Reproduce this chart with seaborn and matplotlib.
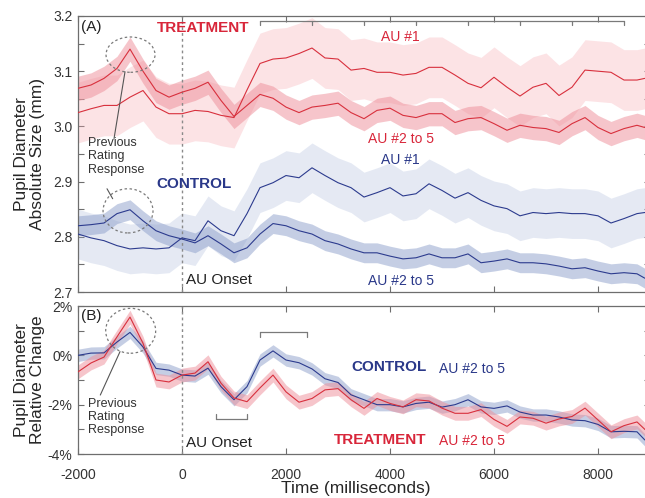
import matplotlib
matplotlib.use("Agg")
import matplotlib.pyplot as plt
import numpy as np
import pandas as pd
import seaborn as sns
from matplotlib.patches import Ellipse
from matplotlib.ticker import MultipleLocator, FuncFormatter

# ---------------- data ----------------
time_ms = list(range(-2000, 8751, 250)) + [8900]

# Panel A: absolute pupil size (mm)
treat_au1 = [3.025, 3.032, 3.038, 3.038, 3.053, 3.065, 3.035, 3.023, 3.023, 3.029,
             3.027, 3.020, 3.016, 3.066, 3.114, 3.122, 3.124, 3.132, 3.142, 3.124,
             3.122, 3.102, 3.105, 3.098, 3.098, 3.093, 3.096, 3.107, 3.107, 3.093,
             3.078, 3.070, 3.089, 3.071, 3.055, 3.071, 3.078, 3.056, 3.071, 3.102,
             3.100, 3.098, 3.084, 3.084, 3.087]
treat_au25 = [3.069, 3.075, 3.087, 3.105, 3.140, 3.100, 3.065, 3.053, 3.062, 3.069,
              3.080, 3.047, 3.018, 3.038, 3.058, 3.051, 3.035, 3.025, 3.035, 3.038,
              3.042, 3.025, 3.014, 3.029, 3.033, 3.020, 3.016, 3.023, 3.023, 3.007,
              3.014, 3.016, 3.005, 2.993, 3.002, 2.998, 2.996, 2.989, 3.005, 3.016,
              2.998, 2.987, 2.996, 3.002, 2.998]
ctrl_au1 = [2.805, 2.798, 2.793, 2.784, 2.778, 2.780, 2.778, 2.780, 2.798, 2.793,
            2.829, 2.811, 2.802, 2.842, 2.889, 2.898, 2.911, 2.907, 2.925, 2.911,
            2.898, 2.889, 2.872, 2.880, 2.889, 2.874, 2.878, 2.896, 2.884, 2.870,
            2.880, 2.866, 2.856, 2.851, 2.838, 2.844, 2.842, 2.844, 2.842, 2.842,
            2.838, 2.825, 2.833, 2.842, 2.844]
ctrl_au25 = [2.820, 2.822, 2.825, 2.842, 2.849, 2.829, 2.811, 2.802, 2.796, 2.789,
             2.802, 2.787, 2.771, 2.780, 2.805, 2.824, 2.820, 2.811, 2.805, 2.793,
             2.787, 2.778, 2.771, 2.771, 2.765, 2.760, 2.762, 2.769, 2.762, 2.762,
             2.769, 2.753, 2.756, 2.760, 2.753, 2.753, 2.751, 2.747, 2.742, 2.744,
             2.738, 2.733, 2.735, 2.733, 2.725]
treat_au1_se, treat_au25_se = 0.055, 0.022
ctrl_au1_se, ctrl_au25_se = 0.045, 0.018

# Panel B: relative change (%)
ctrl_rel = [0.00, 0.09, 0.10, 0.54, 0.93, 0.34, -0.53, -0.60, -0.80, -0.84,
            -0.52, -1.27, -1.80, -1.27, -0.19, 0.18, -0.19, -0.30, -0.55, -0.95,
            -1.10, -1.60, -1.80, -2.00, -2.00, -2.09, -1.95, -1.90, -2.10, -2.00,
            -1.80, -2.09, -2.15, -2.05, -2.30, -2.42, -2.42, -2.50, -2.62, -2.65,
            -2.80, -3.10, -3.08, -3.10, -3.43]
treat_rel = [-0.67, -0.31, -0.07, 0.75, 1.55, 0.49, -1.00, -1.08, -0.80, -0.72,
             -0.26, -1.13, -1.73, -1.88, -1.32, -0.80, -1.48, -1.90, -1.75, -1.40,
             -1.35, -1.80, -2.15, -1.75, -1.95, -2.09, -1.80, -1.85, -2.14, -2.35,
             -2.35, -2.20, -2.60, -2.88, -2.50, -2.55, -2.75, -2.58, -2.48, -2.14,
             -2.62, -3.10, -2.85, -2.70, -3.00]
ctrl_rel_se, treat_rel_se = 0.25, 0.28

x_ticks = [-2000, 0, 2000, 4000, 6000, 8000]

# ---------------- styling ----------------
sns.set_style("ticks")
plt.rcParams["font.family"] = ["Liberation Sans", "DejaVu Sans"]
plt.rcParams["axes.unicode_minus"] = False

RED = "#d8303d"
BLUE = "#2c3b8e"
RED_TXT = "#d8263a"
BLUE_TXT = "#2a3889"
SPINE = "#6e6e6e"

fig = plt.figure(figsize=(6.45, 4.98), dpi=100)
W, H = 645, 498
axA = fig.add_axes([78 / W, (H - 292) / H, 572 / W, 276 / H])
axB = fig.add_axes([78 / W, (H - 454) / H, 572 / W, 148 / H])

df = pd.DataFrame({"t": time_ms, "ta1": treat_au1, "ta25": treat_au25,
                   "ca1": ctrl_au1, "ca25": ctrl_au25,
                   "cr": ctrl_rel, "tr": treat_rel})

def band(ax, col, se, color, alpha):
    y = df[col].to_numpy()
    ax.fill_between(df["t"], y - se, y + se, color=color, alpha=alpha, lw=0, zorder=1)

# Panel A bands
band(axA, "ta1", treat_au1_se, "#f7a8b0", 0.32)
band(axA, "ca1", ctrl_au1_se, "#9fb0d6", 0.27)
band(axA, "ta25", treat_au25_se, "#ee8d98", 0.5)
band(axA, "ca25", ctrl_au25_se, "#8c9fcb", 0.5)
for col, c in [("ta1", RED), ("ta25", RED), ("ca1", BLUE), ("ca25", BLUE)]:
    sns.lineplot(data=df, x="t", y=col, color=c, lw=0.8, ax=axA, zorder=3)

# Panel B bands
band(axB, "cr", ctrl_rel_se, "#8c9fcb", 0.5)
band(axB, "tr", treat_rel_se, "#ee8d98", 0.5)
sns.lineplot(data=df, x="t", y="cr", color=BLUE, lw=0.8, ax=axB, zorder=3)
sns.lineplot(data=df, x="t", y="tr", color=RED, lw=0.8, ax=axB, zorder=3)

for ax in (axA, axB):
    ax.set_xlim(-2000, 9000)
    ax.set_xticks(x_ticks)
    ax.axvline(0, color="#8a8a8a", lw=1.0, ls=(0, (2, 2.2)), zorder=2)
    ax.tick_params(which="both", direction="in", top=True, right=True,
                   length=4, width=0.8, color=SPINE, labelsize=10,
                   labelcolor="#333333")
    for s in ax.spines.values():
        s.set_color(SPINE)
        s.set_linewidth(0.9)
    ax.set_xlabel("")
    ax.set_ylabel("")

axA.set_ylim(2.7, 3.2)
axA.yaxis.set_major_locator(MultipleLocator(0.1))
axA.yaxis.set_minor_locator(MultipleLocator(0.05))
axA.yaxis.set_major_formatter(FuncFormatter(lambda v, p: f"{v:.1f}"))
axA.tick_params(axis="x", labelbottom=False)
axA.tick_params(axis="y", pad=4)

axB.set_ylim(-4, 2)
axB.yaxis.set_major_locator(MultipleLocator(2))
axB.yaxis.set_minor_locator(MultipleLocator(1))
axB.yaxis.set_major_formatter(FuncFormatter(lambda v, p: f"{int(round(v))}%"))
axB.xaxis.set_major_formatter(FuncFormatter(lambda v, p: f"{int(v)}"))
axB.tick_params(axis="x", pad=10)
axB.tick_params(axis="y", pad=4)

axA.set_ylabel("Pupil Diameter\nAbsolute Size (mm)", fontsize=12.5, linespacing=1.05)
axA.yaxis.set_label_coords(-0.058, 0.5)
axB.set_ylabel("Pupil Diameter\nRelative Change", fontsize=12.5, linespacing=1.05)
axB.yaxis.set_label_coords(-0.058, 0.5)
axB.set_xlabel("Time (milliseconds)", fontsize=12.5, labelpad=2)
axB.xaxis.set_label_coords(0.486, -0.185)

GRAY = "#7a7a7a"
# ---- Panel A annotations ----
axA.text(-1950, 3.18, "(A)", fontsize=11, va="center", ha="left", color="#222222")
axA.text(404, 3.178, "TREATMENT", fontsize=11, fontweight="bold", color=RED_TXT,
         ha="center", va="center")
axA.text(231, 2.896, "CONTROL", fontsize=11, fontweight="bold", color=BLUE_TXT,
         ha="center", va="center")
axA.text(4200, 3.162, "AU #1", fontsize=10, color=RED_TXT, ha="center", va="center")
axA.text(4220, 2.978, "AU #2 to 5", fontsize=10, color=RED_TXT, ha="center", va="center")
axA.text(4200, 2.940, "AU #1", fontsize=10, color=BLUE_TXT, ha="center", va="center")
axA.text(4220, 2.720, "AU #2 to 5", fontsize=10, color=BLUE_TXT, ha="center", va="center")
axA.text(70, 2.722, "AU Onset", fontsize=11, color="#222222", ha="left", va="center")
axA.text(-1810, 2.946, "Previous\nRating\nResponse", fontsize=9, color="#333333",
         ha="left", va="center", linespacing=1.15)
axA.add_patch(Ellipse((-990, 3.130), 942, 0.064, fill=False, ec=GRAY, lw=0.9,
                      ls=(0, (2, 2)), zorder=4))
axA.add_patch(Ellipse((-1038, 2.847), 961, 0.080, fill=False, ec=GRAY, lw=0.9,
                      ls=(0, (2, 2)), zorder=4))
axA.plot([-1307, -1096], [2.978, 3.099], color="#555555", lw=0.8, zorder=4)
axA.plot([-1442, -1333], [2.887, 2.869], color="#555555", lw=0.8, zorder=4)
# top bracket with 1000 ms ticks
axA.plot([1500, 8500], [3.191, 3.191], color=GRAY, lw=0.9, zorder=4)
for tb in range(1500, 8501, 1000):
    axA.plot([tb, tb], [3.191, 3.183], color=GRAY, lw=0.9, zorder=4)

# ---- Panel B annotations ----
axB.text(-1950, 1.59, "(B)", fontsize=11, va="center", ha="left", color="#222222")
axB.add_patch(Ellipse((-987, 0.995), 961, 1.82, fill=False, ec=GRAY, lw=0.9,
                      ls=(0, (2, 2)), zorder=4))
axB.plot([-1571, -1192], [-1.61, 0.15], color="#555555", lw=0.8, zorder=4)
axB.text(-1810, -2.50, "Previous\nRating\nResponse", fontsize=9, color="#333333",
         ha="left", va="center", linespacing=1.15)
axB.text(70, -3.55, "AU Onset", fontsize=11, color="#222222", ha="left", va="center")
axB.plot([1500, 2400], [0.95, 0.95], color=GRAY, lw=0.9)
axB.plot([1500, 1500], [0.95, 0.75], color=GRAY, lw=0.9)
axB.plot([2400, 2400], [0.95, 0.75], color=GRAY, lw=0.9)
axB.plot([650, 1250], [-2.58, -2.58], color=GRAY, lw=0.9)
axB.plot([650, 650], [-2.58, -2.38], color=GRAY, lw=0.9)
axB.plot([1250, 1250], [-2.58, -2.38], color=GRAY, lw=0.9)
axB.text(3250, -0.49, "CONTROL", fontsize=11, fontweight="bold", color=BLUE_TXT,
         ha="left", va="center")
axB.text(4940, -0.57, "AU #2 to 5", fontsize=10, color=BLUE_TXT, ha="left", va="center")
axB.text(2920, -3.43, "TREATMENT", fontsize=11, fontweight="bold", color=RED_TXT,
         ha="left", va="center")
axB.text(4940, -3.47, "AU #2 to 5", fontsize=10, color=RED_TXT, ha="left", va="center")

fig.savefig("out.png", dpi=100)
